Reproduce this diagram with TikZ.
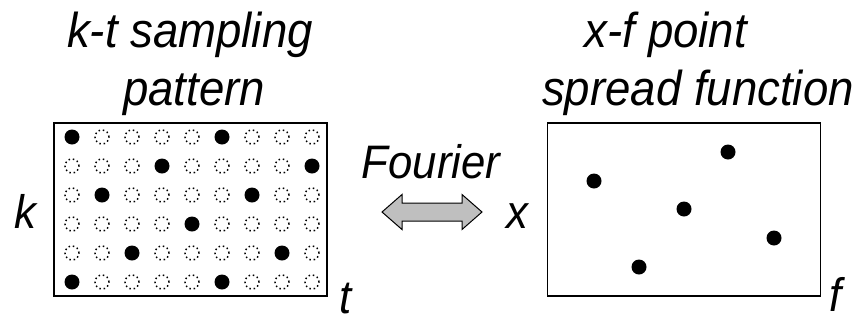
\documentclass[tikz,border=0pt]{standalone}
\usepackage{fontspec}
\setmainfont{Liberation Sans}[FakeStretch=0.93]
\begin{document}
\begin{tikzpicture}[x=1pt,y=-1pt,every node/.style={inner sep=0pt},
  ttl/.style={font=\fontsize{49}{56}\selectfont\itshape,anchor=base},
  axl/.style={font=\fontsize{47}{56}\selectfont\itshape,anchor=base},
  frame/.style={draw,line width=1.8pt,minimum width=273pt,minimum height=173pt},
  hit/.style={fill=black,circle,minimum size=15pt},
  miss/.style={draw,circle,minimum size=14pt,line width=1.5pt,dash pattern=on 1.5pt off 2.8pt}]
\useasboundingbox (0,0) rectangle (854,322);
% k-t side
\node[frame] (kt) at (190.5,209.5) {};
\node[ttl] (kt1) at (190,47) {k-t sampling};
\node[ttl] (kt2) at (194,105) {pattern};
\node[axl] (k) at (25,228) {k};
\node[axl] (t) at (346,313) {t};
\foreach \r in {1,...,6}
  \foreach \c in {1,...,9}{
    \pgfmathtruncatemacro{\m}{mod(\c-1-3*(\r-1)+30,5)}
    \ifnum\m=0 \def\kind{hit}\else\def\kind{miss}\fi
    \node[\kind] (s-\r-\c) at ({72+30*(\c-1)},{137+29*(\r-1)}) {};
  }
% x-f side
\node[frame] (xf) at (684,209.5) {};
\node[ttl] (xf1) at (666,47) {x-f point};
\node[ttl] (xf2) at (698,105) {spread function};
\node[axl] (x) at (517,228) {x};
\node[axl] (f) at (836,311) {f};
\node[hit] (p1) at (728,152) {};
\node[hit] (p2) at (594,181) {};
\node[hit] (p3) at (684,209) {};
\node[hit] (p4) at (774,238) {};
\node[hit] (p5) at (639,267) {};
% transform
\node[axl] (four) at (431,178) {Fourier};
\coordinate (ft) at (432,212);
\draw[fill=gray!50,line width=1pt] ([xshift=-50pt]ft) -- ++(20,-17.5) -- ++(0,8.5) -- ++(60,0)
  -- ++(0,-8.5) -- ++(20,17.5) -- ++(-20,17.5) -- ++(0,-8.5) -- ++(-60,0) -- ++(0,8.5) -- cycle;
\end{tikzpicture}
\end{document}
